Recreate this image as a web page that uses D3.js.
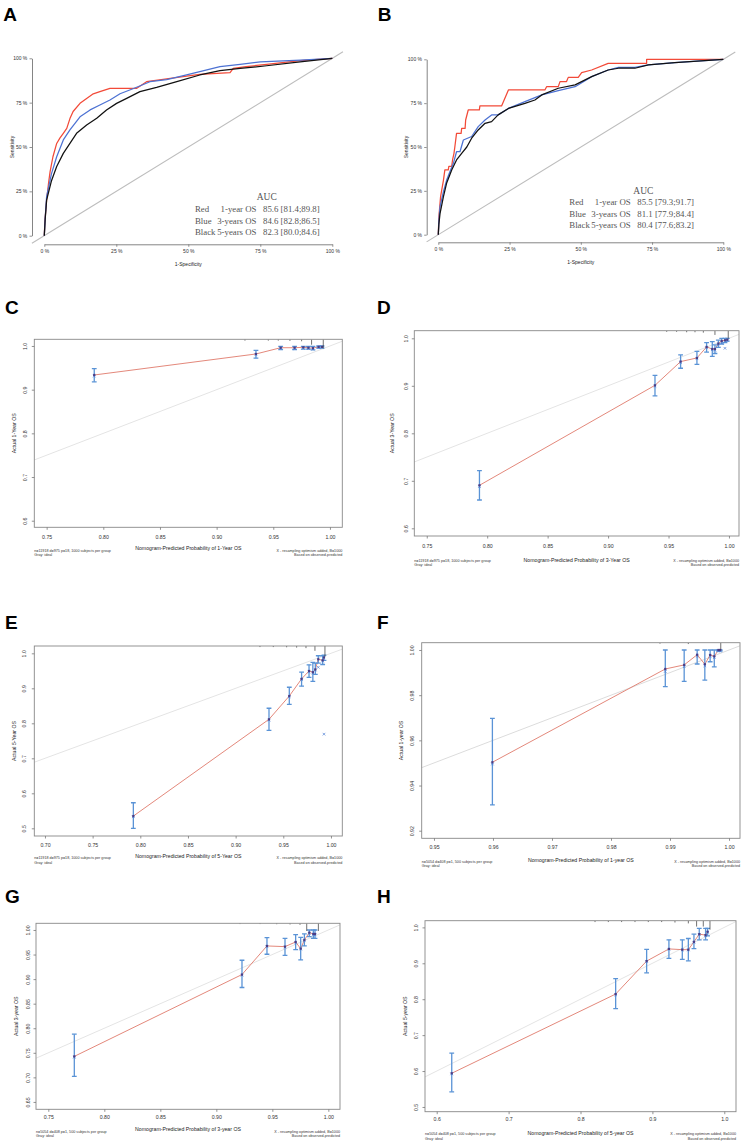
<!DOCTYPE html>
<html><head><meta charset="utf-8">
<script src="https://cdn.jsdelivr.net/npm/d3@7"></script>
<style>body{margin:0;background:#fff} svg{display:block}</style>
</head><body>
<svg id="fig" width="750" height="1143"></svg>
<script>
// ================= ROC DATA (x = 1-specificity, y = sensitivity) =================
const rocTicks = [0, 0.25, 0.5, 0.75, 1];
const rocTickLabels = ["0 %", "25 %", "50 %", "75 %", "100 %"];

const rocA_red = [[0,0],[0.002,0.08],[0.008,0.2],[0.015,0.30],[0.02,0.36],[0.03,0.445],[0.043,0.52],[0.054,0.55],[0.066,0.577],[0.078,0.605],[0.089,0.66],[0.1,0.70],[0.124,0.746],[0.147,0.774],[0.17,0.80],[0.193,0.812],[0.228,0.83],[0.32,0.83],[0.355,0.868],[0.40,0.878],[0.494,0.90],[0.54,0.91],[0.645,0.919],[0.656,0.943],[0.70,0.953],[0.772,0.966],[0.888,0.987],[1,1]];
const rocA_blue = [[0,0],[0.003,0.1],[0.008,0.22],[0.025,0.35],[0.043,0.445],[0.066,0.54],[0.089,0.596],[0.124,0.67],[0.159,0.709],[0.193,0.737],[0.228,0.765],[0.263,0.80],[0.31,0.83],[0.367,0.868],[0.425,0.88],[0.494,0.906],[0.54,0.925],[0.61,0.953],[0.68,0.966],[0.75,0.98],[0.89,0.99],[1,1]];
const rocA_black = [[0,0],[0.003,0.09],[0.008,0.2],[0.025,0.31],[0.043,0.39],[0.066,0.464],[0.089,0.52],[0.112,0.577],[0.147,0.624],[0.182,0.662],[0.216,0.709],[0.251,0.746],[0.286,0.774],[0.332,0.812],[0.39,0.836],[0.46,0.868],[0.54,0.906],[0.61,0.93],[0.68,0.943],[0.772,0.958],[0.888,0.98],[1,1]];

const rocB_red = [[0,0],[0.002,0.1],[0.008,0.217],[0.018,0.31],[0.023,0.37],[0.035,0.37],[0.037,0.39],[0.047,0.39],[0.05,0.426],[0.055,0.464],[0.058,0.50],[0.064,0.578],[0.08,0.578],[0.082,0.606],[0.094,0.606],[0.096,0.654],[0.105,0.711],[0.144,0.711],[0.146,0.734],[0.222,0.734],[0.246,0.825],[0.374,0.825],[0.38,0.844],[0.421,0.844],[0.427,0.873],[0.45,0.873],[0.456,0.897],[0.491,0.897],[0.503,0.924],[0.538,0.939],[0.596,0.977],[0.731,0.977],[0.731,1.0],[1,1]];
const rocB_blue = [[0,0],[0.002,0.08],[0.006,0.16],[0.018,0.245],[0.029,0.31],[0.041,0.36],[0.053,0.407],[0.064,0.473],[0.076,0.473],[0.088,0.54],[0.117,0.56],[0.14,0.616],[0.164,0.654],[0.187,0.683],[0.21,0.683],[0.246,0.72],[0.304,0.759],[0.363,0.797],[0.421,0.821],[0.48,0.844],[0.538,0.901],[0.596,0.939],[0.632,0.954],[0.69,0.954],[0.737,0.968],[0.83,0.981],[1,1]];
const rocB_black = [[0,0],[0.002,0.06],[0.006,0.12],[0.018,0.217],[0.029,0.293],[0.047,0.369],[0.064,0.426],[0.082,0.464],[0.1,0.50],[0.117,0.55],[0.14,0.597],[0.164,0.635],[0.187,0.645],[0.21,0.683],[0.246,0.72],[0.304,0.749],[0.339,0.768],[0.363,0.797],[0.421,0.835],[0.48,0.854],[0.538,0.901],[0.596,0.939],[0.632,0.949],[0.69,0.949],[0.737,0.968],[0.83,0.981],[1,1]];

const aucNames = ["Red", "Blue", "Black"];
const aucPeriods = ["1-year OS", "3-years OS", "5-years OS"];
const aucA_values = ["85.6 [81.4;89.8]", "84.6 [82.8;86.5]", "82.3 [80.0;84.6]"];
const aucB_values = ["85.5 [79.3;91.7]", "81.1 [77.9;84.4]", "80.4 [77.6;83.2]"];

// ================= CALIBRATION DATA =================
const calC_pred = [0.792, 0.9347, 0.9565, 0.9688, 0.9765, 0.981, 0.985, 0.990, 0.993];
const calC_obs  = [0.9336, 0.9817, 0.996, 0.996, 0.997, 0.996, 0.995, 0.998, 0.998];
const calC_lo   = [0.918, 0.972, 0.992, 0.992, 0.993, 0.993, 0.991, 0.995, 0.995];
const calC_hi   = [0.948, 0.990, 0.999, 0.999, 0.999, 0.999, 0.999, 1.0, 1.0];
const calC_corr = [0.931, 0.980, 0.995, 0.994, 0.995, 0.994, 0.993, 0.996, 0.997];
const calC_rugX = [0.925, 0.9456, 0.9544, 0.9647, 0.975, 0.9838, 0.9941];
const calC_rugF = [0.15, 0.15, 0.15, 0.18, 0.22, 0.6, 1.0];

const calD_pred = [0.7936, 0.9388, 0.960, 0.9735, 0.9815, 0.9862, 0.9884, 0.9912, 0.994, 0.9967, 0.9986];
const calD_obs  = [0.6905, 0.901, 0.951, 0.9586, 0.9818, 0.9775, 0.9775, 0.9888, 0.9944, 0.9958, 0.997];
const calD_lo   = [0.6596, 0.8786, 0.937, 0.945, 0.971, 0.962, 0.968, 0.981, 0.988, 0.991, 0.994];
const calD_hi   = [0.7214, 0.922, 0.965, 0.9726, 0.991, 0.993, 0.986, 0.996, 1.0, 1.0, 1.0];
const calD_corr = [0.688, 0.899, 0.949, 0.957, 0.980, 0.976, 0.975, 0.986, 0.990, 0.979, 0.995];
const calD_rugX = [0.9485, 0.9567, 0.965, 0.9719, 0.9788, 0.9884, 0.9994];
const calD_rugF = [0.15, 0.15, 0.2, 0.2, 0.25, 0.55, 1.0];

const calE_pred = [0.7927, 0.935, 0.9563, 0.9692, 0.977, 0.981, 0.9836, 0.9867, 0.9913, 0.9927];
const calE_obs  = [0.535, 0.8114, 0.878, 0.927, 0.9495, 0.946, 0.954, 0.983, 0.98, 0.988];
const calE_lo   = [0.5, 0.78, 0.854, 0.906, 0.931, 0.92, 0.94, 0.972, 0.968, 0.98];
const calE_hi   = [0.573, 0.843, 0.903, 0.946, 0.967, 0.974, 0.972, 0.993, 0.993, 0.995];
const calE_corr = [0.533, 0.809, 0.876, 0.925, 0.947, 0.944, 0.952, 0.96, 0.978, 0.769];
const calE_rugX = [0.9255, 0.9395, 0.9535, 0.964, 0.9738, 0.9832, 0.9937];
const calE_rugF = [0.1, 0.1, 0.12, 0.15, 0.2, 0.45, 1.0];

const calF_pred = [0.9599, 0.9892, 0.9924, 0.9946, 0.9959, 0.9968, 0.9975, 0.9982, 0.9985];
const calF_obs  = [0.9503, 0.9916, 0.9934, 0.9979, 0.9937, 0.9978, 0.9972, 1.0, 1.0];
const calF_lo   = [0.9314, 0.9838, 0.9861, 0.9938, 0.9867, 0.9948, 0.9925, 0.9995, 0.9995];
const calF_hi   = [0.9697, 1.0, 1.0, 1.0, 1.0, 1.0, 1.0, 1.0, 1.0];
const calF_corr = [0.9495, 0.9905, 0.9926, 0.9972, 0.993, 0.9972, 0.9966, 0.9995, 0.9996];
const calF_rugX = [0.9883, 0.9931, 0.9986];
const calF_rugF = [0.15, 0.2, 1.0];

const calG_pred = [0.7732, 0.9229, 0.9452, 0.9613, 0.9708, 0.9753, 0.9786, 0.983, 0.9866, 0.9881];
const calG_obs  = [0.7427, 0.9093, 0.9675, 0.9661, 0.9756, 0.962, 0.9797, 0.9946, 0.9919, 0.9919];
const calG_lo   = [0.702, 0.8829, 0.9506, 0.9485, 0.96, 0.939, 0.9675, 0.9865, 0.983, 0.983];
const calG_hi   = [0.788, 0.9384, 0.9844, 0.983, 0.9905, 0.985, 0.9919, 1.0, 1.0, 1.0];
const calG_corr = [0.741, 0.908, 0.966, 0.965, 0.974, 0.961, 0.978, 0.993, 0.991, 0.990];
const calG_rugX = [0.9211, 0.939, 0.9539, 0.9658, 0.9747, 0.9807, 0.9911];
const calG_rugF = [0.1, 0.1, 0.12, 0.15, 0.2, 1.0, 1.0];

const calH_pred = [0.6209, 0.8489, 0.892, 0.923, 0.9416, 0.95, 0.9578, 0.9652, 0.974, 0.9768];
const calH_obs  = [0.5938, 0.8143, 0.9062, 0.94, 0.938, 0.938, 0.9597, 0.9812, 0.9784, 0.9878];
const calH_lo   = [0.5422, 0.7739, 0.8734, 0.9137, 0.911, 0.907, 0.941, 0.9653, 0.9653, 0.9765];
const calH_hi   = [0.65, 0.8574, 0.939, 0.9653, 0.9653, 0.969, 0.9812, 0.997, 0.997, 0.997];
const calH_corr = [0.592, 0.812, 0.905, 0.939, 0.937, 0.937, 0.958, 0.980, 0.977, 0.986];
const calH_rugX = [0.8202, 0.8387, 0.8572, 0.8758, 0.8943, 0.9129, 0.9314, 0.95, 0.9615, 0.9708, 0.9801];
const calH_rugF = [0.15, 0.15, 0.15, 0.15, 0.15, 0.15, 0.2, 0.3, 0.65, 0.65, 1.0];

// tick values
const ticksX_CD = [0.75, 0.80, 0.85, 0.90, 0.95, 1.00];
const ticksY_CD = [0.6, 0.7, 0.8, 0.9, 1.0];
const ticksX_E = [0.70, 0.75, 0.80, 0.85, 0.90, 0.95, 1.00];
const ticksY_E = [0.5, 0.6, 0.7, 0.8, 0.9, 1.0];
const ticksX_F = [0.95, 0.96, 0.97, 0.98, 0.99, 1.00];
const ticksY_F = [0.92, 0.94, 0.96, 0.98, 1.00];
const ticksX_G = [0.75, 0.80, 0.85, 0.90, 0.95, 1.00];
const ticksY_G = [0.65, 0.70, 0.75, 0.80, 0.85, 0.90, 0.95, 1.00];
const ticksX_H = [0.6, 0.7, 0.8, 0.9, 1.0];
const ticksY_H = [0.5, 0.6, 0.7, 0.8, 0.9, 1.0];

const subTrain = ["n=11918 d=975 p=18, 1000 subjects per group", "Gray: ideal"];
const subValid = ["n=5054 d=408 p=1, 500 subjects per group", "Gray: ideal"];
const subRight = ["X - resampling optimism added, B=1000", "Based on observed-predicted"];

// ================= DRAWING =================
const SANS = "'Liberation Sans', Arial, Helvetica, sans-serif";
const SERIF = "'Liberation Serif', 'Times New Roman', serif";
const svg = d3.select("#fig");
svg.append("rect").attr("width", 750).attr("height", 1143).attr("fill", "#fff");

function letter(t, x, y) {
  svg.append("text").attr("x", x).attr("y", y).text(t)
    .attr("font-family", SANS).attr("font-weight", "bold").attr("font-size", 19).attr("fill", "#000");
}

function styleAxis(sel, fs) {
  sel.selectAll("path.domain").attr("stroke", "#777").attr("stroke-width", 0.9);
  sel.selectAll(".tick line").attr("stroke", "#777").attr("stroke-width", 0.8);
  sel.selectAll(".tick text").attr("font-family", SANS).attr("font-size", fs).attr("fill", "#333");
}

function drawROC(cfg) {
  const g = svg.append("g");
  const x = d3.scaleLinear().domain([0, 1]).range([cfg.x0, cfg.x1]);
  const y = d3.scaleLinear().domain([0, 1]).range([cfg.y0, cfg.y1]);
  g.append("line").attr("x1", x(cfg.diag[0])).attr("y1", y(cfg.diag[0]))
    .attr("x2", x(cfg.diag[1])).attr("y2", y(cfg.diag[1]))
    .attr("stroke", "#bdbdbd").attr("stroke-width", 1.1);
  const ya = g.append("g").attr("transform", `translate(${cfg.yAxisX},0)`)
    .call(d3.axisLeft(y).tickValues(rocTicks).tickFormat((d, i) => rocTickLabels[i]).tickSize(2.5).tickSizeOuter(0).tickPadding(2.2));
  styleAxis(ya, 5);
  const xa = g.append("g").attr("transform", `translate(0,${cfg.xAxisY})`)
    .call(d3.axisBottom(x).tickValues(rocTicks).tickFormat((d, i) => rocTickLabels[i]).tickSize(2.5).tickSizeOuter(0).tickPadding(2.5));
  styleAxis(xa, 5);
  g.append("text").attr("transform", `translate(${cfg.yTitleX},${(cfg.y0 + cfg.y1) / 2}) rotate(-90)`)
    .attr("text-anchor", "middle").attr("dominant-baseline", "central")
    .attr("font-family", SANS).attr("font-size", 5).attr("fill", "#222").text("Sensitivity");
  g.append("text").attr("x", (cfg.x0 + cfg.x1) / 2).attr("y", cfg.xTitleY)
    .attr("text-anchor", "middle").attr("dominant-baseline", "central")
    .attr("font-family", SANS).attr("font-size", 5).attr("fill", "#222").text("1-Specificity");
  const line = d3.line().x(d => x(d[0])).y(d => y(d[1]));
  const series = [[cfg.red, "#f24a38"], [cfg.blue, "#4d72d3"], [cfg.black, "#111"]];
  series.forEach(([d, c]) => g.append("path").attr("d", line(d)).attr("fill", "none")
    .attr("stroke", c).attr("stroke-width", 1.25).attr("stroke-linejoin", "round"));
  // AUC legend
  const t = g.append("g").attr("font-family", SERIF).attr("font-size", 8.8).attr("fill", "#555");
  t.append("text").attr("x", cfg.aucCenterX).attr("y", cfg.aucTitleY).attr("text-anchor", "middle")
    .attr("dominant-baseline", "central").attr("font-size", 9.5).text("AUC");
  cfg.aucLines.forEach((ly, i) => {
    t.append("text").attr("x", cfg.aucCol1).attr("y", ly).attr("dominant-baseline", "central").text(aucNames[i]);
    t.append("text").attr("x", cfg.aucCol2).attr("y", ly).attr("text-anchor", "end").attr("dominant-baseline", "central").text(aucPeriods[i]);
    t.append("text").attr("x", cfg.aucCol3).attr("y", ly).attr("dominant-baseline", "central").text(cfg.values[i]);
  });
}

let clipId = 0;
function drawCal(cfg) {
  const g = svg.append("g");
  const x = d3.scaleLinear().domain(cfg.xdom).range([cfg.L, cfg.R]);
  const y = d3.scaleLinear().domain(cfg.ydom).range([cfg.B, cfg.T]);
  const id = "clip" + (clipId++);
  g.append("clipPath").attr("id", id).append("rect")
    .attr("x", cfg.L).attr("y", cfg.T).attr("width", cfg.R - cfg.L).attr("height", cfg.B - cfg.T);
  const inner = g.append("g").attr("clip-path", `url(#${id})`);
  // ideal line
  const lo = Math.min(cfg.xdom[0], cfg.ydom[0]), hi = Math.max(cfg.xdom[1], cfg.ydom[1]);
  inner.append("line").attr("x1", x(lo)).attr("y1", y(lo)).attr("x2", x(hi)).attr("y2", y(hi))
    .attr("stroke", cfg.idealColor || "#e4e4e4").attr("stroke-width", 1);
  const pts = cfg.pred.map((p, i) => ({ p, o: cfg.obs[i], lo: cfg.lo[i], hi: cfg.hi[i], c: cfg.corr[i] }));
  // apparent line
  inner.append("path").attr("d", d3.line().x(d => x(d.p)).y(d => y(d.o))(pts))
    .attr("fill", "none").attr("stroke", "#e07a6c").attr("stroke-width", 0.9);
  // error bars
  const eb = inner.append("g").attr("stroke", "#5a93d6").attr("stroke-width", 1.3);
  pts.forEach(d => {
    eb.append("line").attr("x1", x(d.p)).attr("x2", x(d.p)).attr("y1", y(d.lo)).attr("y2", y(d.hi));
    eb.append("line").attr("x1", x(d.p) - 2.4).attr("x2", x(d.p) + 2.4).attr("y1", y(d.lo)).attr("y2", y(d.lo));
    eb.append("line").attr("x1", x(d.p) - 2.4).attr("x2", x(d.p) + 2.4).attr("y1", y(d.hi)).attr("y2", y(d.hi));
  });
  // bias-corrected x marks
  const xm = inner.append("g").attr("stroke", "#4f7fd4").attr("stroke-width", 0.7);
  pts.forEach(d => {
    const cx = x(d.p), cy = y(d.c), s = 1.3;
    xm.append("line").attr("x1", cx - s).attr("y1", cy - s).attr("x2", cx + s).attr("y2", cy + s);
    xm.append("line").attr("x1", cx - s).attr("y1", cy + s).attr("x2", cx + s).attr("y2", cy - s);
  });
  // points
  inner.selectAll("rect.pt").data(pts).enter().append("rect").attr("class", "pt")
    .attr("x", d => x(d.p) - 1.1).attr("y", d => y(d.o) - 1.1).attr("width", 2.2).attr("height", 2.2)
    .attr("fill", "#4a3d86");
  // rug at top
  const rugLen = d3.scaleLinear().domain([0, 1]).range([0, cfg.rugMax]);
  inner.selectAll("line.rug").data(cfg.rugX.map((v, i) => [v, cfg.rugF[i]])).enter().append("line")
    .attr("x1", d => x(d[0])).attr("x2", d => x(d[0])).attr("y1", cfg.T).attr("y2", d => cfg.T + rugLen(d[1]))
    .attr("stroke", "#333").attr("stroke-width", 0.7);
  // box
  g.append("rect").attr("x", cfg.L).attr("y", cfg.T).attr("width", cfg.R - cfg.L).attr("height", cfg.B - cfg.T)
    .attr("fill", "none").attr("stroke", "#888").attr("stroke-width", 0.9);
  // axes
  const xa = g.append("g").attr("transform", `translate(0,${cfg.B})`)
    .call(d3.axisBottom(x).tickValues(cfg.tx).tickFormat(d3.format(cfg.fx)).tickSize(2.5).tickSizeOuter(0));
  xa.select("path.domain").remove();
  styleAxis(xa, 5.2);
  xa.selectAll(".tick text").attr("y", cfg.tickY - cfg.B).attr("dy", null).attr("dominant-baseline", "central");
  const ya = g.append("g").attr("transform", `translate(${cfg.L},0)`)
    .call(d3.axisLeft(y).tickValues(cfg.ty).tickFormat(d3.format(cfg.fy)).tickSize(2.5).tickSizeOuter(0));
  ya.select("path.domain").remove();
  styleAxis(ya, 5.2);
  ya.selectAll(".tick text").attr("x", 0).attr("dy", null).attr("y", -(cfg.L - cfg.yLabX))
    .attr("transform", "rotate(-90)").attr("text-anchor", "middle").attr("dominant-baseline", "central");
  // titles
  g.append("text").attr("x", (cfg.L + cfg.R) / 2).attr("y", cfg.titleY).attr("text-anchor", "middle")
    .attr("dominant-baseline", "central").attr("font-family", SANS).attr("font-size", 5.2).attr("fill", "#222").text(cfg.xTitle);
  g.append("text").attr("transform", `translate(${cfg.yTitleX},${(cfg.T + cfg.B) / 2}) rotate(-90)`)
    .attr("text-anchor", "middle").attr("dominant-baseline", "central")
    .attr("font-family", SANS).attr("font-size", 5.2).attr("fill", "#222").text(cfg.yTitle);
  const sub = g.append("g").attr("font-family", SANS).attr("font-size", 3.7).attr("fill", "#333");
  cfg.subL.forEach((s, i) => sub.append("text").attr("x", cfg.L).attr("y", cfg.subY[i]).attr("dominant-baseline", "central").text(s));
  subRight.forEach((s, i) => sub.append("text").attr("x", cfg.R).attr("y", cfg.subY[i]).attr("text-anchor", "end").attr("dominant-baseline", "central").text(s));
}

// ---- panels A, B ----
letter("A", 3.3, 20.7);
letter("B", 377.7, 20.7);
drawROC({ x0: 44.3, x1: 332.3, y0: 235.7, y1: 58.3, yAxisX: 32, xAxisY: 244.3, diag: [-0.043, 1.037],
  yTitleX: 12, xTitleY: 264, red: rocA_red, blue: rocA_blue, black: rocA_black,
  aucCenterX: 266.7, aucTitleY: 197, aucLines: [209, 220.7, 232.3], aucCol1: 195, aucCol2: 256.5, aucCol3: 263, values: aucA_values });
drawROC({ x0: 438.3, x1: 723.3, y0: 234.7, y1: 59.3, yAxisX: 426.7, xAxisY: 242.3, diag: [-0.041, 1.042],
  yTitleX: 406, xTitleY: 262.3, red: rocB_red, blue: rocB_blue, black: rocB_black,
  aucCenterX: 643.3, aucTitleY: 190.7, aucLines: [202, 213.7, 225.3], aucCol1: 569.3, aucCol2: 630.7, aucCol3: 637.3, values: aucB_values });

// ---- calibration panels ----
letter("C", 5, 314.3);
drawCal({ L: 34.3, R: 342.3, T: 339.3, B: 527.3, xdom: [0.7391, 1.0109], ydom: [0.5849, 1.0153],
  pred: calC_pred, obs: calC_obs, lo: calC_lo, hi: calC_hi, corr: calC_corr, rugX: calC_rugX, rugF: calC_rugF, rugMax: 9,
  tx: ticksX_CD, ty: ticksY_CD, fx: ".2f", fy: ".1f", tickY: 536.7, yLabX: 25, titleY: 548.3, subY: [550.5, 555],
  yTitleX: 14, xTitle: "Nomogram-Predicted Probability of 1-Year OS", yTitle: "Actual 1-Year OS", subL: subTrain });
letter("D", 377, 314.3);
drawCal({ L: 414.3, R: 739, T: 330.7, B: 536, xdom: [0.7397, 1.0083], ydom: [0.5838, 1.016],
  pred: calD_pred, obs: calD_obs, lo: calD_lo, hi: calD_hi, corr: calD_corr, rugX: calD_rugX, rugF: calD_rugF, rugMax: 7.7,
  tx: ticksX_CD, ty: ticksY_CD, fx: ".2f", fy: ".1f", tickY: 545.5, yLabX: 405.7, titleY: 559.5, subY: [560.7, 564.5],
  yTitleX: 391.7, xTitle: "Nomogram-Predicted Probability of 3-Year OS", yTitle: "Actual 3-Year OS", subL: subTrain });
letter("E", 5, 629);
drawCal({ L: 34.3, R: 342.3, T: 646, B: 836, xdom: [0.6888, 1.0119], ydom: [0.478, 1.0209],
  pred: calE_pred, obs: calE_obs, lo: calE_lo, hi: calE_hi, corr: calE_corr, rugX: calE_rugX, rugF: calE_rugF, rugMax: 10.7,
  tx: ticksX_E, ty: ticksY_E, fx: ".2f", fy: ".1f", tickY: 845, yLabX: 24, titleY: 856, subY: [858.3, 862.7],
  yTitleX: 14, xTitle: "Nomogram-Predicted Probability of 5-Year OS", yTitle: "Actual 5-Year OS", subL: subTrain });
letter("F", 377, 629);
drawCal({ L: 421.7, R: 740, T: 642.7, B: 838.3, xdom: [0.94792, 1.00186], ydom: [0.91664, 1.00323],
  pred: calF_pred, obs: calF_obs, lo: calF_lo, hi: calF_hi, corr: calF_corr, rugX: calF_rugX, rugF: calF_rugF, rugMax: 6.7,
  tx: ticksX_F, ty: ticksY_F, fx: ".2f", fy: ".2f", tickY: 846.7, yLabX: 412.3, titleY: 860, subY: [862.3, 866],
  yTitleX: 400.7, xTitle: "Nomogram-Predicted Probability of 1-year OS", yTitle: "Actual 1-year OS", subL: subValid, idealColor: "#dcdcdc" });
letter("G", 5, 903.3);
drawCal({ L: 36, R: 340, T: 923.3, B: 1109.3, xdom: [0.739, 1.0104], ydom: [0.635, 1.0136],
  pred: calG_pred, obs: calG_obs, lo: calG_lo, hi: calG_hi, corr: calG_corr, rugX: calG_rugX, rugF: calG_rugF, rugMax: 7.7,
  tx: ticksX_G, ty: ticksY_G, fx: ".2f", fy: ".2f", tickY: 1116.7, yLabX: 28.3, titleY: 1129.3, subY: [1131.7, 1136],
  yTitleX: 16, xTitle: "Nomogram-Predicted Probability of 3-year OS", yTitle: "Actual 3-year OS", subL: subValid });
letter("H", 377, 903.3);
drawCal({ L: 425, R: 736, T: 920.7, B: 1111.7, xdom: [0.5837, 1.0163], ydom: [0.4868, 1.0186],
  pred: calH_pred, obs: calH_obs, lo: calH_lo, hi: calH_hi, corr: calH_corr, rugX: calH_rugX, rugF: calH_rugF, rugMax: 9,
  tx: ticksX_H, ty: ticksY_H, fx: ".1f", fy: ".1f", tickY: 1119.3, yLabX: 415.7, titleY: 1132.7, subY: [1134.3, 1139.3],
  yTitleX: 405, xTitle: "Nomogram-Predicted Probability of 5-year OS", yTitle: "Actual 5-year OS", subL: subValid });
</script>
</body></html>
